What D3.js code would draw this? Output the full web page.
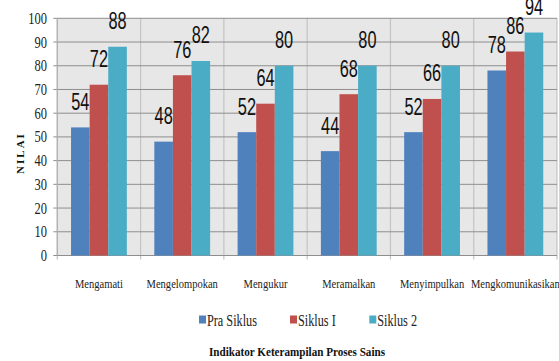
<!DOCTYPE html>
<html>
<head>
<meta charset="utf-8">
<script src="https://cdn.jsdelivr.net/npm/d3@7"></script>
<style>
  html, body { margin: 0; padding: 0; background: #fff; }
  svg { display: block; }
  .serif { font-family: "Liberation Serif", "DejaVu Serif", "Times New Roman", serif; }
</style>
</head>
<body>
<svg id="chart" width="559" height="361"></svg>
<script>
const categories = ["Mengamati", "Mengelompokan", "Mengukur", "Meramalkan", "Menyimpulkan", "Mengkomunikasikan"];
const seriesNames = ["Pra Siklus", "Siklus I", "Siklus 2"];
const praSiklus = [54, 48, 52, 44, 52, 78];
const siklus1 = [72, 76, 64, 68, 66, 86];
const siklus2 = [88, 82, 80, 80, 80, 94];
const yTicks = [0, 10, 20, 30, 40, 50, 60, 70, 80, 90, 100];
const yTitle = "NILAI";
const xTitle = "Indikator Keterampilan Proses Sains";

const colors = ["#4F81BD", "#C0504D", "#4BACC6"];
const seriesValues = [praSiklus, siklus1, siklus2];

const svg = d3.select("#chart");
const pLeft = 57.3, pRight = 557, pTop = 18.3, pBottom = 255.5;

const x = d3.scaleBand().domain(categories).range([pLeft, pRight]).padding(0);
const bw = x.bandwidth();
const x1 = d3.scaleBand().domain(seriesNames).range([bw * 0.165, bw * 0.835]).padding(0);
const y = d3.scaleLinear().domain([0, 100]).range([pBottom, pTop]);

// plot background
svg.append("rect").attr("x", pLeft).attr("y", pTop).attr("width", pRight - pLeft).attr("height", pBottom - pTop)
  .attr("fill", "#e7e7e7");

// vertical gridlines (category boundaries)
const bounds = categories.map(c => x(c)).concat([pRight]);
svg.append("g").selectAll("line").data(bounds).join("line")
  .attr("x1", d => d).attr("x2", d => d).attr("y1", pTop).attr("y2", pBottom + 4)
  .attr("stroke", "#c4c4c4").attr("stroke-width", 1.2);

// horizontal gridlines
svg.append("g").selectAll("line").data(yTicks).join("line")
  .attr("x1", pLeft - 4).attr("x2", pRight).attr("y1", d => y(d)).attr("y2", d => y(d))
  .attr("stroke", "#8e8e8e").attr("stroke-width", 1);

// left axis line
svg.append("line").attr("x1", pLeft).attr("x2", pLeft).attr("y1", pTop).attr("y2", pBottom)
  .attr("stroke", "#b0b0b0").attr("stroke-width", 1.2);

// bars
const rows = [];
categories.forEach((c, i) => seriesNames.forEach((s, j) => rows.push({ c, s, j, v: seriesValues[j][i] })));
svg.append("g").selectAll("rect").data(rows).join("rect")
  .attr("x", d => x(d.c) + x1(d.s))
  .attr("y", d => y(d.v))
  .attr("width", x1.bandwidth())
  .attr("height", d => y(0) - y(d.v))
  .attr("fill", d => colors[d.j]);

// data labels
svg.append("g").selectAll("text").data(rows).join("text")
  .attr("transform", d => `translate(${x(d.c) + x1(d.s) + x1.bandwidth() / 2},${y(d.v) - 17.5}) scale(0.68,1)`)
  .attr("text-anchor", "middle")
  .attr("font-family", "'Liberation Sans', Arial, sans-serif")
  .attr("font-size", 24)
  .attr("fill", "#111")
  .text(d => d.v);

// y tick labels
svg.append("g").selectAll("text").data(yTicks).join("text")
  .attr("class", "serif")
  .attr("transform", d => `translate(47,${y(d) + 5.5}) scale(0.78,1)`)
  .attr("text-anchor", "end")
  .attr("font-size", 16)
  .attr("fill", "#222")
  .text(d => d);

// category labels
svg.append("g").selectAll("text").data(categories).join("text")
  .attr("class", "serif")
  .attr("transform", d => `translate(${x(d) + bw / 2},288) scale(0.78,1)`)
  .attr("text-anchor", "middle")
  .attr("font-size", 13.5)
  .attr("fill", "#222")
  .text(d => d);

// y title
svg.append("text")
  .attr("class", "serif")
  .attr("transform", "translate(24,153) rotate(-90)")
  .attr("text-anchor", "middle")
  .attr("font-weight", "bold")
  .attr("font-size", 11)
  .attr("letter-spacing", 2)
  .attr("fill", "#111")
  .text(yTitle);

// legend
const legendX = [199, 290, 369.3];
const lg = svg.append("g").selectAll("g").data(seriesNames).join("g")
  .attr("transform", (d, i) => `translate(${legendX[i]},0)`);
lg.append("rect").attr("x", 0).attr("y", 315.5).attr("width", 7).attr("height", 8)
  .attr("fill", (d, i) => colors[i]);
lg.append("text")
  .attr("class", "serif")
  .attr("transform", "translate(8,326) scale(0.72,1)")
  .attr("font-size", 17)
  .attr("fill", "#222")
  .text(d => d);

// x title
svg.append("text")
  .attr("class", "serif")
  .attr("x", 297).attr("y", 356)
  .attr("text-anchor", "middle")
  .attr("font-weight", "bold")
  .attr("font-size", 13)
  .attr("textLength", 176)
  .attr("lengthAdjust", "spacingAndGlyphs")
  .attr("fill", "#111")
  .text(xTitle);
</script>
</body>
</html>
